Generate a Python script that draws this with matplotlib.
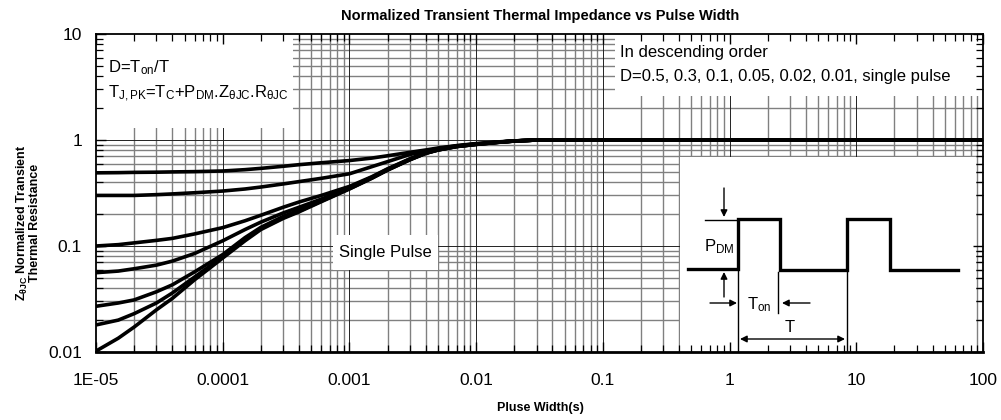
import matplotlib
matplotlib.use("Agg")
import matplotlib.pyplot as plt
import numpy as np

# ---------------- data ----------------
pulse_width = [1e-5, 1.5e-5, 2e-5, 3e-5, 4e-5, 6e-5, 1e-4, 1.5e-4, 2e-4, 3e-4,
               4e-4, 6e-4, 1e-3, 1.5e-3, 2e-3, 3e-3, 4e-3, 5e-3, 7e-3, 1e-2,
               1.5e-2, 2e-2, 3e-2, 1e-1, 1, 10, 100]
z_d05 = [0.49, 0.492, 0.495, 0.497, 0.50, 0.503, 0.51, 0.525, 0.54, 0.565,
         0.585, 0.61, 0.64, 0.675, 0.71, 0.765, 0.805, 0.84, 0.885, 0.925,
         0.96, 0.98, 1.0, 1.0, 1.0, 1.0, 1.0]
z_d03 = [0.30, 0.30, 0.30, 0.305, 0.31, 0.318, 0.33, 0.345, 0.36, 0.385,
         0.405, 0.435, 0.48, 0.56, 0.625, 0.73, 0.785, 0.83, 0.88, 0.92,
         0.955, 0.98, 1.0, 1.0, 1.0, 1.0, 1.0]
z_d01 = [0.10, 0.103, 0.107, 0.113, 0.118, 0.13, 0.149, 0.173, 0.195, 0.232,
         0.26, 0.30, 0.365, 0.45, 0.535, 0.665, 0.76, 0.815, 0.875, 0.915,
         0.955, 0.98, 1.0, 1.0, 1.0, 1.0, 1.0]
z_d005 = [0.056, 0.058, 0.061, 0.066, 0.072, 0.085, 0.112, 0.143, 0.168, 0.205,
          0.232, 0.277, 0.355, 0.445, 0.53, 0.66, 0.755, 0.81, 0.87, 0.912,
          0.953, 0.978, 1.0, 1.0, 1.0, 1.0, 1.0]
z_d002 = [0.027, 0.029, 0.031, 0.037, 0.043, 0.057, 0.083, 0.12, 0.15, 0.19,
          0.218, 0.268, 0.35, 0.44, 0.525, 0.655, 0.75, 0.805, 0.868, 0.91,
          0.952, 0.978, 1.0, 1.0, 1.0, 1.0, 1.0]
z_d001 = [0.018, 0.02, 0.023, 0.029, 0.036, 0.051, 0.079, 0.115, 0.146, 0.185,
          0.213, 0.265, 0.347, 0.437, 0.522, 0.653, 0.75, 0.805, 0.868, 0.91,
          0.952, 0.978, 1.0, 1.0, 1.0, 1.0, 1.0]
z_single = [0.0102, 0.0135, 0.0172, 0.025, 0.032, 0.048, 0.077, 0.112, 0.143, 0.182,
            0.21, 0.262, 0.345, 0.435, 0.52, 0.65, 0.748, 0.805, 0.866, 0.908,
            0.95, 0.977, 1.0, 1.0, 1.0, 1.0, 1.0]
series = [z_d05, z_d03, z_d01, z_d005, z_d002, z_d001, z_single]

x_ticks = [1e-5, 1e-4, 1e-3, 1e-2, 1e-1, 1, 10, 100]
x_ticklabels = ["1E-05", "0.0001", "0.001", "0.01", "0.1", "1", "10", "100"]
y_ticks = [0.01, 0.1, 1, 10]
y_ticklabels = ["0.01", "0.1", "1", "10"]

title = "Normalized Transient Thermal Impedance vs Pulse Width"
xlabel = "Pluse Width(s)"

# ---------------- style ----------------
plt.rcParams['font.family'] = ['Liberation Sans', 'DejaVu Sans']
plt.rcParams['mathtext.fontset'] = 'custom'
plt.rcParams['mathtext.rm'] = 'Liberation Sans'
plt.rcParams['mathtext.it'] = 'Liberation Sans:italic'
plt.rcParams['mathtext.bf'] = 'Liberation Sans:bold'

W, H = 1001, 420
fig = plt.figure(figsize=(W / 100, H / 100), dpi=100)
L, R, T, B = 96, 983, 34, 352
ax = fig.add_axes([L / W, (H - B) / H, (R - L) / W, (B - T) / H])


def fx(px):
    return (px - L) / (R - L)


def fy(py):
    return (B - py) / (B - T)


ax.set_xscale('log')
ax.set_yscale('log')
ax.set_xlim(1e-5, 100)
ax.set_ylim(0.01, 10)

# grid drawn manually underneath the white boxes
for e in range(-5, 2):
    for m in range(2, 10):
        ax.axvline(m * 10.0 ** e, color='#808080', lw=1.0, zorder=0.5)
for e in range(-4, 2):
    ax.axvline(10.0 ** e, color='#222222', lw=0.7, zorder=0.6)
for e in range(-2, 1):
    for m in range(2, 10):
        ax.axhline(m * 10.0 ** e, color='#808080', lw=1.0, zorder=0.5)
for e in range(-1, 1):
    ax.axhline(10.0 ** e, color='#222222', lw=0.7, zorder=0.6)

# curves
for s in series:
    ax.plot(pulse_width, s, color='black', lw=2.6, solid_capstyle='butt',
            solid_joinstyle='round', zorder=3)

ax.set_xticks(x_ticks)
ax.set_xticklabels(x_ticklabels)
ax.set_yticks(y_ticks)
ax.set_yticklabels(y_ticklabels)
ax.tick_params(which='both', direction='in', top=True, right=True,
               labelsize=12.5, colors='black')
ax.tick_params(which='major', length=7, width=1.0)
ax.tick_params(axis='x', which='major', pad=15)
ax.tick_params(axis='y', which='major', pad=10)
ax.tick_params(which='minor', length=5, width=0.9)
for sp in ax.spines.values():
    sp.set_linewidth(1.3)
ax.spines['bottom'].set_linewidth(2.0)

# white boxes
def wbox(x0, y0, x1, y1):
    ax.add_patch(plt.Rectangle((fx(x0), fy(y1)), fx(x1) - fx(x0),
                               fy(y0) - fy(y1), transform=ax.transAxes,
                               facecolor='white', edgecolor='none', zorder=1))

wbox(96, 34, 293, 128)
wbox(615, 34, 983, 96)
wbox(680, 157, 976, 352)
wbox(333, 235, 438, 270)

# text annotations
ta = ax.transAxes
ax.text(fx(108), fy(68), r"D=T$_{\mathrm{on}}$/T", transform=ta,
        fontsize=12, va='center', ha='left', zorder=4)
ax.text(fx(108), fy(94),
        r"T$_{\mathrm{J,PK}}$=T$_{\mathrm{C}}$+P$_{\mathrm{DM}}$.Z$_{\mathrm{θJC}}$.R$_{\mathrm{θJC}}$",
        transform=ta, fontsize=12, va='center', ha='left', zorder=4)
ax.text(fx(620), fy(53), "In descending order", transform=ta,
        fontsize=12, va='center', ha='left', zorder=4)
ax.text(fx(620), fy(76), "D=0.5, 0.3, 0.1, 0.05, 0.02, 0.01, single pulse",
        transform=ta, fontsize=12, va='center', ha='left', zorder=4)
ax.text(fx(385), fy(252), "Single Pulse", transform=ta, fontsize=12,
        va='center', ha='center', zorder=4)

# inset pulse schematic
px_pts = [688, 738, 738, 780, 780, 847, 847, 890, 890, 958]
py_pts = [269, 269, 219, 219, 270, 270, 219, 219, 270, 270]
ax.plot([fx(p) for p in px_pts], [fy(p) for p in py_pts], transform=ta,
        color='black', lw=2.4, zorder=4, solid_joinstyle='miter')
thin = dict(transform=ta, color='black', lw=1.0, zorder=4)
ax.plot([fx(705), fx(738)], [fy(220), fy(220)], **thin)
ax.plot([fx(738), fx(738)], [fy(270), fy(352)], **thin)
ax.plot([fx(847), fx(847)], [fy(270), fy(352)], **thin)
ax.plot([fx(778), fx(778)], [fy(272), fy(313)], **thin)


def arrow(x0, y0, x1, y1, style='-|>'):
    ax.annotate('', xy=(fx(x1), fy(y1)), xytext=(fx(x0), fy(y0)),
                xycoords=ta, textcoords=ta,
                arrowprops=dict(arrowstyle=style, color='black', lw=1.0,
                                shrinkA=0, shrinkB=0, mutation_scale=10),
                zorder=5)


arrow(724, 188, 724, 217)
arrow(724, 297, 724, 272)
arrow(710, 303, 737, 303)
arrow(810, 303, 782, 303)
arrow(740, 339, 845, 339, style='<|-|>')

ax.text(fx(704), fy(247), r"P$_{\mathrm{DM}}$", transform=ta, fontsize=12,
        va='center', ha='left', zorder=5)
ax.text(fx(747), fy(305), r"T$_{\mathrm{on}}$", transform=ta, fontsize=12,
        va='center', ha='left', zorder=5)
ax.text(fx(790), fy(327), "T", transform=ta, fontsize=12,
        va='center', ha='center', zorder=5)

# titles / labels
fig.text(540 / W, 1 - 16 / H, title, fontsize=10.5, fontweight='bold',
         ha='center', va='center')
fig.text(540 / W, 1 - 408 / H, xlabel, fontsize=9, fontweight='bold',
         ha='center', va='center')
fig.text(28 / W, 1 - 223 / H,
         "Z$_{\\mathbf{θJC}}$ Normalized Transient\nThermal Resistance",
         fontsize=9, fontweight='bold', rotation=90, ha='center',
         va='center', multialignment='center', linespacing=0.85)

fig.savefig("out.png", dpi=100)
